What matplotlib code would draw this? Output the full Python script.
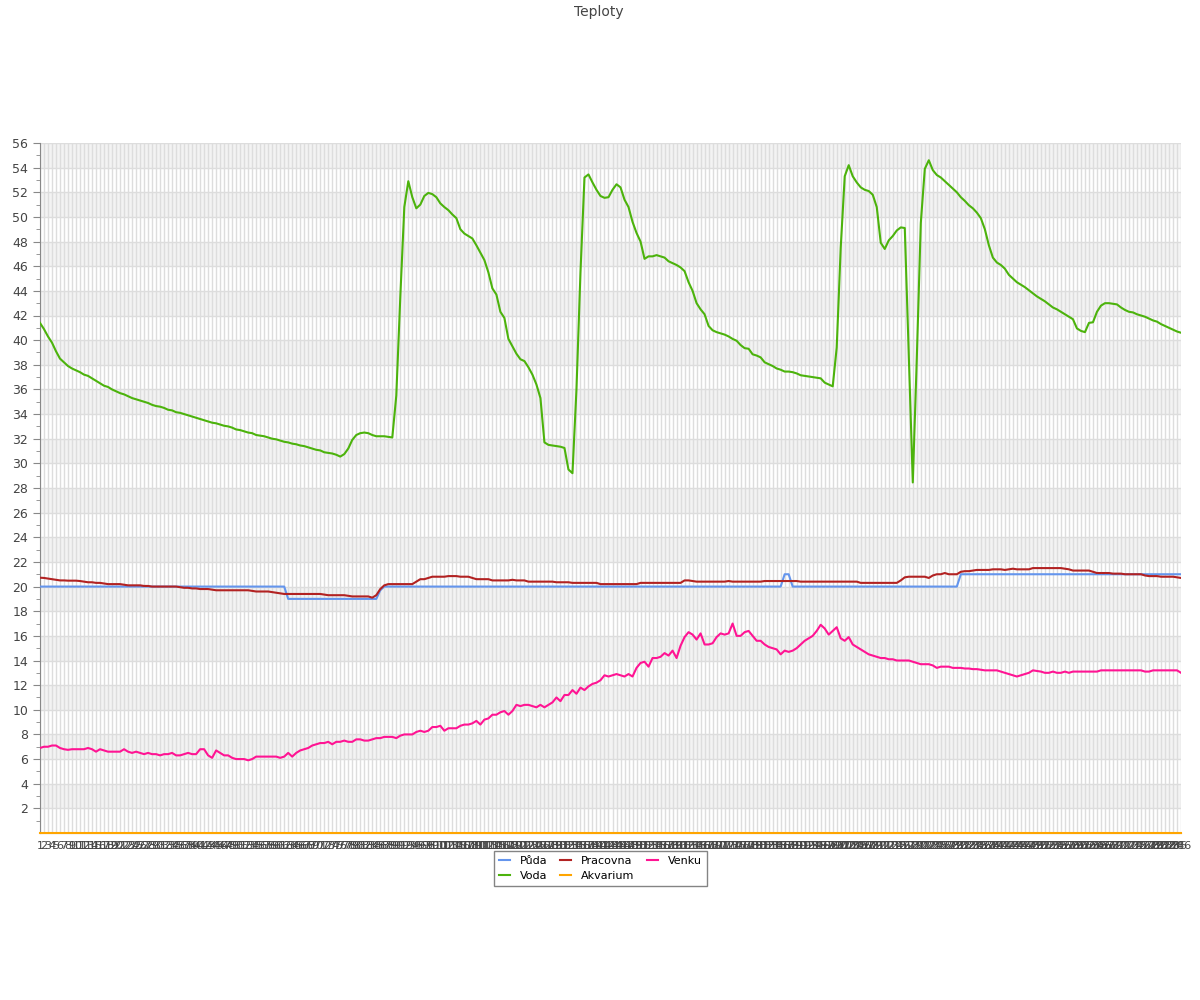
import numpy as np
import matplotlib.pyplot as plt

## Data

voda = [
    41.4, 40.9, 40.3, 39.8, 39.1, 38.5, 38.2, 37.9, 37.7, 37.55,
    37.4, 37.2, 37.1, 36.9, 36.7, 36.5, 36.3, 36.2, 36.0, 35.85,
    35.7, 35.6, 35.45, 35.3, 35.2, 35.1, 35.0, 34.9, 34.75, 34.65,
    34.6, 34.5, 34.35, 34.3, 34.15, 34.1, 34.0, 33.9, 33.8, 33.7,
    33.6, 33.5, 33.4, 33.3, 33.25, 33.15, 33.05, 33.0, 32.9, 32.75,
    32.7, 32.6, 32.5, 32.45, 32.3, 32.25, 32.2, 32.1, 32.0, 31.95,
    31.85, 31.75, 31.7, 31.6, 31.55, 31.45, 31.4, 31.3, 31.2, 31.1,
    31.05, 30.9, 30.85, 30.8, 30.7, 30.55, 30.75, 31.2, 31.9, 32.3,
    32.45, 32.5, 32.45, 32.3, 32.2, 32.2, 32.2, 32.15, 32.1, 35.5,
    43.5, 50.8, 52.9, 51.6, 50.7, 51.0, 51.7, 51.95, 51.85, 51.6,
    51.1, 50.8, 50.55, 50.2, 49.9, 49.0, 48.65, 48.45, 48.25, 47.7,
    47.1, 46.5, 45.5, 44.2, 43.7, 42.3, 41.8, 40.1, 39.5, 38.9,
    38.45, 38.3, 37.8, 37.2, 36.4, 35.3, 31.7, 31.5, 31.45, 31.4,
    31.35, 31.25, 29.5, 29.2, 36.0, 45.5, 53.2, 53.45, 52.8, 52.2,
    51.7, 51.55, 51.6, 52.2, 52.65, 52.4, 51.4, 50.8, 49.6, 48.7,
    48.0, 46.6, 46.8, 46.8, 46.9, 46.8, 46.7, 46.4, 46.25, 46.1,
    45.9, 45.6, 44.7, 44.0, 43.0, 42.5, 42.1, 41.15, 40.8, 40.65,
    40.55, 40.45, 40.3, 40.1, 39.95, 39.6, 39.35, 39.3, 38.85, 38.75,
    38.6, 38.2, 38.05, 37.9, 37.7, 37.6, 37.45, 37.45, 37.4, 37.3,
    37.15, 37.1, 37.05, 37.0, 36.95, 36.9, 36.55, 36.4, 36.25, 39.4,
    47.5, 53.3, 54.2, 53.3, 52.8, 52.4, 52.2, 52.1, 51.8, 50.8,
    47.9, 47.4, 48.1, 48.45, 48.9, 49.15, 49.1, 38.8, 28.45, 38.5,
    49.5, 53.9, 54.6, 53.8, 53.4, 53.2, 52.9, 52.6, 52.3, 52.0,
    51.6, 51.3, 50.95, 50.7, 50.35, 49.9, 49.0, 47.7, 46.7, 46.3,
    46.1, 45.8, 45.3, 45.0, 44.7, 44.5, 44.3, 44.05, 43.8, 43.55,
    43.35, 43.15, 42.9, 42.65, 42.5, 42.3, 42.1, 41.9, 41.7, 40.95,
    40.75, 40.65, 41.4, 41.45, 42.3, 42.8, 43.0, 43.0, 42.95, 42.9,
    42.65, 42.45, 42.3, 42.25, 42.1, 42.0, 41.9, 41.75, 41.6, 41.5,
    41.3, 41.15, 41.0, 40.85, 40.7, 40.6,
]

puda = (
    [20.0] * 62 + [19.0] * 23 + [19.7]
    + [20.0] * 100 + [21.0, 21.0]
    + [20.0] * 42 + [21.0] * 56
)

pracovna = [
    20.72, 20.7, 20.65, 20.6, 20.55, 20.5, 20.5, 20.48, 20.48, 20.48,
    20.45, 20.4, 20.35, 20.35, 20.3, 20.3, 20.25, 20.2, 20.2, 20.2,
    20.2, 20.15, 20.1, 20.1, 20.1, 20.1, 20.05, 20.05, 20.0, 20.0,
    20.0, 20.0, 20.0, 20.0, 20.0, 19.95, 19.9, 19.9, 19.85, 19.85,
    19.8, 19.8, 19.8, 19.75, 19.7, 19.7, 19.7, 19.7, 19.7, 19.7,
    19.7, 19.7, 19.7, 19.65, 19.6, 19.6, 19.6, 19.6, 19.55, 19.5,
    19.45, 19.4, 19.4, 19.4, 19.4, 19.4, 19.4, 19.4, 19.4, 19.4,
    19.4, 19.35, 19.3, 19.3, 19.3, 19.3, 19.3, 19.25, 19.2, 19.2,
    19.2, 19.2, 19.2, 19.1, 19.3, 19.8, 20.1, 20.2, 20.2, 20.2,
    20.2, 20.2, 20.2, 20.2, 20.4, 20.6, 20.6, 20.7, 20.8, 20.8,
    20.8, 20.8, 20.85, 20.85, 20.85, 20.8, 20.8, 20.8, 20.7, 20.6,
    20.6, 20.6, 20.6, 20.5, 20.5, 20.5, 20.5, 20.5, 20.55, 20.5,
    20.5, 20.5, 20.4, 20.4, 20.4, 20.4, 20.4, 20.4, 20.4, 20.35,
    20.35, 20.35, 20.35, 20.3, 20.3, 20.3, 20.3, 20.3, 20.3, 20.3,
    20.2, 20.2, 20.2, 20.2, 20.2, 20.2, 20.2, 20.2, 20.2, 20.2,
    20.3, 20.3, 20.3, 20.3, 20.3, 20.3, 20.3, 20.3, 20.3, 20.3,
    20.3, 20.5, 20.5, 20.45, 20.4, 20.4, 20.4, 20.4, 20.4, 20.4,
    20.4, 20.4, 20.45, 20.4, 20.4, 20.4, 20.4, 20.4, 20.4, 20.4,
    20.4, 20.45, 20.45, 20.45, 20.45, 20.45, 20.45, 20.45, 20.45, 20.45,
    20.4, 20.4, 20.4, 20.4, 20.4, 20.4, 20.4, 20.4, 20.4, 20.4,
    20.4, 20.4, 20.4, 20.4, 20.4, 20.3, 20.3, 20.3, 20.3, 20.3,
    20.3, 20.3, 20.3, 20.3, 20.3, 20.5, 20.75, 20.8, 20.8, 20.8,
    20.8, 20.8, 20.7, 20.9, 21.0, 21.0, 21.1, 21.0, 21.0, 21.0,
    21.2, 21.25, 21.25, 21.3, 21.35, 21.35, 21.35, 21.35, 21.4, 21.4,
    21.4, 21.35, 21.4, 21.45, 21.4, 21.4, 21.4, 21.4, 21.5, 21.5,
    21.5, 21.5, 21.5, 21.5, 21.5, 21.5, 21.45, 21.4, 21.3, 21.3,
    21.3, 21.3, 21.3, 21.2, 21.1, 21.1, 21.1, 21.1, 21.05, 21.05,
    21.05, 21.0, 21.0, 21.0, 21.0, 21.0, 20.9, 20.85, 20.85, 20.85,
    20.8, 20.8, 20.8, 20.8, 20.75, 20.7,
]

venku = [
    6.9, 7.0, 7.0, 7.1, 7.1, 6.9, 6.8, 6.75, 6.8, 6.8,
    6.8, 6.8, 6.9, 6.8, 6.6, 6.8, 6.7, 6.6, 6.6, 6.6,
    6.6, 6.8, 6.6, 6.5, 6.6, 6.5, 6.4, 6.5, 6.4, 6.4,
    6.3, 6.4, 6.4, 6.5, 6.3, 6.3, 6.4, 6.5, 6.4, 6.4,
    6.8, 6.8, 6.3, 6.1, 6.7, 6.5, 6.3, 6.3, 6.1, 6.0,
    6.0, 6.0, 5.9, 6.0, 6.2, 6.2, 6.2, 6.2, 6.2, 6.2,
    6.1, 6.2, 6.5, 6.2, 6.5, 6.7, 6.8, 6.9, 7.1, 7.2,
    7.3, 7.3, 7.4, 7.2, 7.4, 7.4, 7.5, 7.4, 7.4, 7.6,
    7.6, 7.5, 7.5, 7.6, 7.7, 7.7, 7.8, 7.8, 7.8, 7.7,
    7.9, 8.0, 8.0, 8.0, 8.2, 8.3, 8.2, 8.3, 8.6, 8.6,
    8.7, 8.3, 8.5, 8.5, 8.5, 8.7, 8.8, 8.8, 8.9, 9.1,
    8.8, 9.2, 9.3, 9.6, 9.6, 9.8, 9.9, 9.6, 9.9, 10.4,
    10.3, 10.4, 10.4, 10.3, 10.2, 10.4, 10.2, 10.4, 10.6, 11.0,
    10.7, 11.2, 11.2, 11.6, 11.3, 11.8, 11.6, 11.9, 12.1, 12.2,
    12.4, 12.8, 12.7, 12.8, 12.9, 12.8, 12.7, 12.9, 12.7, 13.4,
    13.8, 13.9, 13.5, 14.2, 14.2, 14.3, 14.6, 14.4, 14.8, 14.2,
    15.2, 15.9, 16.3, 16.1, 15.7, 16.2, 15.3, 15.3, 15.4, 15.9,
    16.2, 16.1, 16.2, 17.0, 16.0, 16.0, 16.3, 16.4, 16.0, 15.6,
    15.6, 15.3, 15.1, 15.0, 14.9, 14.5, 14.8, 14.7, 14.8, 15.0,
    15.3, 15.6, 15.8, 16.0, 16.4, 16.9, 16.6, 16.1, 16.4, 16.7,
    15.8, 15.6, 15.9, 15.3, 15.1, 14.9, 14.7, 14.5, 14.4, 14.3,
    14.2, 14.2, 14.1, 14.1, 14.0, 14.0, 14.0, 14.0, 13.9, 13.8,
    13.7, 13.7, 13.7, 13.6, 13.4, 13.5, 13.5, 13.5, 13.4, 13.4,
    13.4, 13.35, 13.35, 13.3, 13.3, 13.25, 13.2, 13.2, 13.2, 13.2,
    13.1, 13.0, 12.9, 12.8, 12.7, 12.8, 12.9, 13.0, 13.2, 13.15,
    13.1, 13.0, 13.0, 13.1, 13.0, 13.0, 13.1, 13.0, 13.1, 13.1,
    13.1, 13.1, 13.1, 13.1, 13.1, 13.2, 13.2, 13.2, 13.2, 13.2,
    13.2, 13.2, 13.2, 13.2, 13.2, 13.2, 13.1, 13.1, 13.2, 13.2,
    13.2, 13.2, 13.2, 13.2, 13.2, 13.0,
]

akvarium = [0.0] * 286

x = np.arange(1, len(voda) + 1)
xlabels = [str(i) for i in x]

## Figura

fig = plt.figure(figsize=(12, 10), dpi=100)
ax = fig.add_axes([0.0333, 0.167, 0.9509, 0.690])

fig.text(0.499, 0.995, 'Teploty', ha='center', va='top', fontsize=10, color='#444444')

# pasy v pozadi
for lo in range(2, 56, 4):
    ax.axhspan(lo, lo + 2, color='#f3f3f3', zorder=0, lw=0)

ax.plot(x, puda, color='#6495ed', lw=1.5, label='Půda', zorder=3)
ax.plot(x, voda, color='#4cb30c', lw=1.5, label='Voda', zorder=3)
ax.plot(x, pracovna, color='#b22222', lw=1.5, label='Pracovna', zorder=3)
ax.plot(x, akvarium, color='#ffa500', lw=1.5, label='Akvarium', zorder=4, clip_on=False)
ax.plot(x, venku, color='#ff1493', lw=1.5, label='Venku', zorder=3)

ax.set_xlim(1, len(x))
ax.set_ylim(0, 56)

ax.set_xticks(x)
ax.set_xticklabels(xlabels, fontsize=8, color='#444444')
ax.tick_params(axis='x', length=0, pad=6)

ax.set_yticks(np.arange(2, 57, 2))
ax.set_yticks(np.arange(1, 56, 2), minor=True)
ax.tick_params(axis='y', which='major', length=5, color='#888888', labelsize=9, labelcolor='#444444')
ax.tick_params(axis='y', which='minor', length=3, color='#888888')

ax.grid(True, axis='x', color='#dddddd', lw=1)
ax.grid(True, axis='y', which='major', color='#dddddd', lw=1)
ax.set_axisbelow(True)

for s in ['top', 'right']:
    ax.spines[s].set_visible(False)
ax.spines['left'].set_color('#888888')
ax.spines['bottom'].set_color('#888888')

leg = ax.legend(loc='upper center', bbox_to_anchor=(0.491, -0.0255), ncol=3,
                fontsize=8, frameon=True, fancybox=False, edgecolor='#666666',
                handlelength=1.0, borderpad=0.45, labelspacing=0.45, columnspacing=1.1,
                handletextpad=0.9, borderaxespad=0)
leg.get_frame().set_linewidth(1.0)

plt.savefig('out.png', dpi=100)
